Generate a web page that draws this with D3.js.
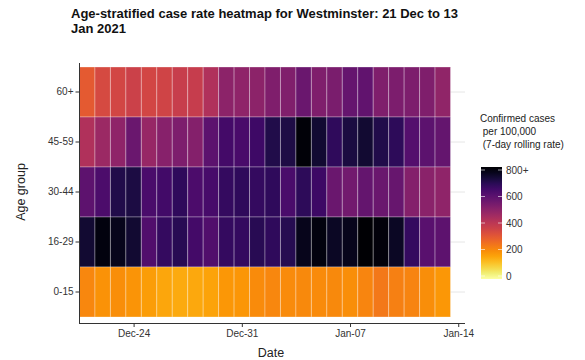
<!DOCTYPE html>
<html>
<head>
<meta charset="utf-8">
<script src="https://cdn.jsdelivr.net/npm/d3@7"></script>
<style>
  body { margin: 0; background: #fff; }
  svg { font-family: "Liberation Sans", Arial, sans-serif; }
</style>
</head>
<body>
<svg width="585" height="360"></svg>
<script>
// Data: 7-day rolling case rate per 100,000, 21 Dec 2020 .. 13 Jan 2021
var startDate = new Date(2020, 11, 21);
var nDays = 24;
var ageGroups = ["60+", "45-59", "30-44", "16-29", "0-15"];
var rate60 = [300, 340, 350, 365, 350, 355, 375, 378, 425, 495, 490, 495, 520, 518, 560, 520, 530, 570, 580, 520, 528, 522, 520, 485];
var rate45 = [425, 465, 490, 560, 475, 505, 525, 510, 588, 635, 628, 645, 700, 705, 790, 730, 675, 710, 730, 700, 678, 605, 590, 575];
var rate30 = [585, 620, 700, 708, 625, 640, 675, 620, 630, 665, 672, 665, 675, 625, 678, 650, 560, 545, 572, 560, 566, 510, 500, 490];
var rate16 = [730, 780, 760, 730, 612, 665, 685, 635, 612, 665, 665, 685, 675, 690, 760, 780, 750, 760, 805, 785, 750, 665, 595, 585];
var rate0 = [210, 192, 198, 188, 172, 158, 152, 155, 165, 182, 187, 205, 210, 205, 208, 205, 208, 198, 215, 240, 225, 218, 198, 182];
var legendTicks = [0, 200, 400, 600, 800];
var xTickDates = [new Date(2020, 11, 24), new Date(2020, 11, 31), new Date(2021, 0, 7), new Date(2021, 0, 14)];

var series = { "60+": rate60, "45-59": rate45, "30-44": rate30, "16-29": rate16, "0-15": rate0 };

var cells = [];
ageGroups.forEach(function (g) {
    series[g].forEach(function (v, i) {
        cells.push({ group: g, date: d3.timeDay.offset(startDate, i), value: v });
    });
});

var svg = d3.select("svg");

// scales
var x = d3.scaleTime()
    .domain([d3.timeHour.offset(startDate, -12), d3.timeHour.offset(startDate, nDays * 24 - 12)])
    .range([79.5, 450.5]);
var dayW = x(d3.timeDay.offset(startDate, 1)) - x(startDate);
var y = d3.scaleBand().domain(ageGroups).range([67, 317]);

var color = function (v) {
    return d3.interpolateInferno(1 - Math.min(v, 800) / 800);
};

// grid lines (visible past the tiles)
svg.append("g")
    .selectAll("line")
    .data(ageGroups)
    .enter()
    .append("line")
    .attr("x1", 79).attr("x2", 465)
    .attr("y1", function (d) { return y(d) + y.bandwidth() / 2; })
    .attr("y2", function (d) { return y(d) + y.bandwidth() / 2; })
    .attr("stroke", "#e6e6e6")
    .attr("stroke-width", 1);

// tiles
svg.append("g")
    .selectAll("rect")
    .data(cells)
    .enter()
    .append("rect")
    .attr("x", function (d) { return x(d.date) - dayW / 2; })
    .attr("y", function (d) { return y(d.group); })
    .attr("width", dayW)
    .attr("height", y.bandwidth())
    .attr("fill", function (d) { return color(d.value); })
    .attr("stroke", "rgba(255,255,255,0.3)")
    .attr("stroke-width", 1);

// axes
var xAxis = svg.append("g")
    .attr("transform", "translate(0,323)")
    .call(d3.axisBottom(x).tickValues(xTickDates).tickFormat(d3.timeFormat("%b-%d")).tickSizeOuter(0).tickSize(4));
xAxis.select(".domain").attr("d", "M79,0.5H465").attr("stroke", "#333");
xAxis.selectAll(".tick line").attr("stroke", "#333");
xAxis.selectAll(".tick text")
    .attr("dy", "0.71em")
    .attr("y", 7)
    .attr("fill", "#333")
    .style("font-size", "10px");

var yAxis = svg.append("g")
    .attr("transform", "translate(79.5,0)")
    .call(d3.axisLeft(y).tickSize(4).tickSizeOuter(0));
yAxis.select(".domain").attr("d", "M0,63V323").attr("stroke", "#333");
yAxis.selectAll(".tick line").attr("stroke", "#333");
yAxis.selectAll(".tick text")
    .attr("x", -6)
    .attr("fill", "#333")
    .style("font-size", "10px");

// axis titles
svg.append("text")
    .attr("x", 271).attr("y", 357)
    .attr("text-anchor", "middle")
    .style("font-size", "12.5px")
    .attr("fill", "#222")
    .text("Date");
svg.append("text")
    .attr("transform", "translate(25,192) rotate(-90)")
    .attr("text-anchor", "middle")
    .style("font-size", "12.5px")
    .attr("fill", "#222")
    .text("Age group");

// title, two lines
svg.append("text")
    .attr("x", 71).attr("y", 18)
    .style("font-size", "13px")
    .style("font-weight", "bold")
    .attr("fill", "#111")
    .text("Age-stratified case rate heatmap for Westminster: 21 Dec to 13");
svg.append("text")
    .attr("x", 71).attr("y", 32.5)
    .style("font-size", "13px")
    .style("font-weight", "bold")
    .attr("fill", "#111")
    .text("Jan 2021");

// legend
var legendTitle = ["Confirmed cases", " per 100,000", " (7-day rolling rate)"];
svg.append("g")
    .selectAll("text")
    .data(legendTitle)
    .enter()
    .append("text")
    .attr("x", 480)
    .attr("y", function (d, i) { return 122 + i * 13; })
    .style("font-size", "10px")
    .style("white-space", "pre")
    .attr("fill", "#222")
    .text(function (d) { return d; });

var ly = d3.scaleLinear().domain([0, 800]).range([276, 170]);
var grad = svg.append("defs").append("linearGradient")
    .attr("id", "lg")
    .attr("x1", 0).attr("x2", 0).attr("y1", 1).attr("y2", 0);
d3.range(0, 1.0001, 0.05).forEach(function (t) {
    grad.append("stop").attr("offset", t).attr("stop-color", color(t * 800));
});
svg.append("rect")
    .attr("x", 481).attr("y", ly(800) - 3)
    .attr("width", 21).attr("height", ly(0) - ly(800) + 6)
    .attr("fill", "url(#lg)");
var lt = svg.append("g")
    .selectAll("g")
    .data(legendTicks)
    .enter()
    .append("g");
lt.append("line")
    .attr("x1", 481).attr("x2", 485)
    .attr("y1", function (d) { return ly(d); }).attr("y2", function (d) { return ly(d); })
    .attr("stroke", "rgba(255,255,255,0.6)");
lt.append("line")
    .attr("x1", 498).attr("x2", 502)
    .attr("y1", function (d) { return ly(d); }).attr("y2", function (d) { return ly(d); })
    .attr("stroke", "rgba(255,255,255,0.6)");
lt.append("text")
    .attr("x", 506)
    .attr("y", function (d) { return ly(d); })
    .attr("dy", "0.35em")
    .style("font-size", "10px")
    .attr("fill", "#333")
    .text(function (d) { return d === 800 ? "800+" : d; });
</script>
</body>
</html>
